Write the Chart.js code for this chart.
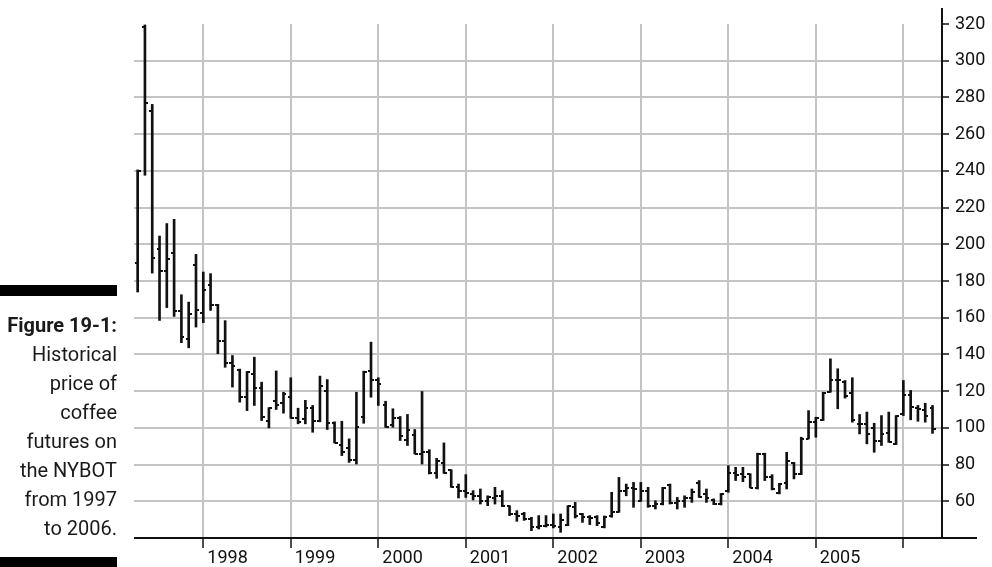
<!DOCTYPE html>
<html>
<head>
<meta charset="utf-8">
<title>Coffee futures, NYBOT 1997-2006</title>
<script src="https://cdn.jsdelivr.net/npm/chart.js@4.4.1/dist/chart.umd.min.js"></script>
<style>
  html, body { margin: 0; padding: 0; background: #fff; }
  #wrap { position: relative; width: 992px; height: 567px; overflow: hidden; }
  #priceChart { position: absolute; left: 0; top: 0; }
  .rule { position: absolute; left: 0; width: 117px; background: #000; }
  #caption {
    position: absolute; left: 0; top: 311px; width: 117px;
    text-align: right; font-family: Roboto, sans-serif;
    font-size: 20px; line-height: 29px; color: #1a1a1a;
  }
  #caption b { font-weight: 700; }
</style>
</head>
<body>
<div id="wrap">
  <canvas id="priceChart" width="992" height="567"></canvas>
  <div class="rule" style="top:285px;height:11px"></div>
  <div id="caption"><b>Figure 19-1:</b><br>Historical<br>price of<br>coffee<br>futures on<br>the NYBOT<br>from 1997<br>to 2006.</div>
  <div class="rule" style="top:557px;height:10px"></div>
</div>
<script>
// monthly bars, first one is April 1997
const START_YEAR = 1997;
const START_MONTH = 4;

const opens = [
    190, 318.5, 272.5, 197.3, 185.3, 195, 163.4, 148.5, 188.5,
    162.5, 178, 167, 147.2, 135.2, 131.3, 117, 129.5, 121.6, 104, 114.5, 113.4,
    117, 105.2, 105, 110.7, 103.6, 120, 102.5, 90.9, 88.9, 82.7, 105.8, 130.9,
    126.3, 112.2, 101.8, 105.2, 93.4, 96.2, 86, 86.7, 75.2, 80.9, 77, 67.6,
    65.4, 63.9, 63, 60.3, 62, 63, 57.5, 53, 53, 50.4, 45.8, 46.5,
    47, 46, 47.3, 57.1, 53, 51.3, 51.5, 46, 52, 54, 65.8, 67,
    60.3, 65.8, 57.6, 58.5, 69, 58.8, 60, 62, 70, 64, 60.5, 58.5,
    65.5, 75.2, 75, 74.9, 67.3, 86, 73, 64.5, 69.8, 81, 74.9, 94,
    103.1, 104.4, 119.5, 126.2, 125, 119, 102.2, 102.2, 100, 93.1, 97, 91,
    107.6, 118, 111, 110, 111
];
const highs = [
    240.5, 319.5, 276.2, 204.5, 211.3, 213.6, 172.5, 168.5, 194.5,
    184.9, 184, 167.3, 158.4, 139.4, 132, 130.7, 138.5, 124.9, 111, 131, 119.4,
    127.3, 110.7, 115, 112.2, 128.2, 126.3, 103.3, 103.6, 94, 119.4, 130.9, 146.7,
    127.3, 114.5, 110.4, 106.2, 107.3, 99.1, 119.8, 88.1, 83.4, 91.8, 77.2, 69.4,
    74.5, 65.8, 66.7, 63, 67.6, 65.8, 57.6, 54.9, 54, 51.3, 52.2, 52.2,
    53.1, 53.1, 57.6, 59.4, 53.4, 52.2, 52.2, 52, 64.9, 73, 69.4, 70.3,
    70.3, 67.6, 60.3, 67.6, 69.4, 62.1, 63, 66.7, 71.3, 66.7, 61.3, 64.3,
    79.4, 78.5, 78.5, 75, 86.2, 86.2, 74.5, 69.8, 86.7, 81.2, 94.9, 109.4,
    105.8, 119.4, 137.6, 132.2, 125.8, 127.3, 107.3, 108.6, 102.5, 106.7, 108.6, 106.7,
    125.8, 120.4, 112.2, 113.4, 112.2
];
const lows = [
    174, 237.6, 184.3, 158.5, 165.5, 160.7, 146.4, 143.6, 154.9,
    157.3, 164, 140.4, 133, 122.2, 114, 109.4, 112.2, 104, 100, 110, 108,
    105.2, 102.2, 102.2, 97.6, 103.3, 99.1, 91.8, 84.9, 81.2, 80.3, 102.5, 116.7,
    112.2, 100.3, 100.3, 93.1, 90.4, 85.8, 80.3, 74.9, 72.5, 75.2, 67.6, 61.8,
    62.1, 60.7, 58.5, 57.6, 58.5, 57.1, 52.2, 49.1, 49.6, 44, 44.9, 46,
    45.5, 43.1, 46.7, 50.9, 48.5, 47.3, 46.7, 45.5, 51.3, 54, 63, 56.7,
    60, 56.7, 55.8, 58, 58.5, 55.8, 56.7, 59.4, 62.1, 59.4, 58.2, 58,
    64.9, 71.3, 70.7, 67.3, 66.7, 71.3, 66.2, 64, 66.7, 72.2, 74.5, 94,
    94.9, 104, 119.4, 110.4, 116.2, 103.1, 96.7, 91.3, 86.7, 90.4, 92.1, 90.9,
    106.7, 104.4, 103.6, 103.1, 97
];
const closes = [
    240, 276.7, 192.5, 185.3, 192.2, 163.4, 149.3, 161.8, 164,
    175.3, 166.7, 147.2, 135.2, 133.6, 117, 130.3, 121.6, 106, 110.7, 112.7, 118.5,
    105.5, 103.3, 110.7, 103.6, 122.7, 102.5, 92, 86.7, 82.7, 100.3, 130.5, 126.3,
    124, 100.5, 105.2, 95.8, 98.9, 86, 86.7, 75.2, 82.2, 75.5, 67.8, 65.4,
    64.3, 63, 60.3, 62.1, 63, 57.5, 53, 52.2, 50.5, 45.8, 46.5, 47,
    46.5, 49.6, 57.3, 52.2, 51.3, 51, 48, 51.5, 54, 65.8, 67, 66.7,
    65.8, 57.6, 58.5, 67.3, 58.8, 60, 62, 64.9, 62.5, 62, 58.3, 64,
    75.2, 74.5, 73.5, 67.5, 86, 73, 66.7, 69.5, 82.2, 74.9, 94, 103.1,
    105.5, 119, 126.2, 125.8, 117.6, 104.4, 102.2, 96.7, 93.1, 96.7, 92.3, 106.5,
    118, 111.3, 110.4, 106.7, 99.4
];

const yearTicks = [1998, 1999, 2000, 2001, 2002, 2003, 2004, 2005, 2006];
const yearLabels = ['1998', '1999', '2000', '2001', '2002', '2003', '2004', '2005', ''];
const priceTicks = [60, 80, 100, 120, 140, 160, 180, 200, 220, 240, 260, 280, 300, 320];

const GRID = '#c4c4c4';
const INK = '#111';

// bar index of January of a given year
function januaryIndex(year) {
    return (year - START_YEAR) * 12 + (1 - START_MONTH);
}

// small open / close ticks, drawn as point images centred on the bar
function tickImage(side) {
    const c = document.createElement('canvas');
    c.width = 6;
    c.height = 2;
    const g = c.getContext('2d');
    g.fillStyle = INK;
    g.fillRect(side === 'left' ? 0 : 3, 0, 3, 2);
    return c;
}

const axisLines = {
    id: 'axisLines',
    afterDraw(chart) {
        const { ctx, chartArea } = chart;
        ctx.save();
        ctx.strokeStyle = INK;
        ctx.lineWidth = 2;
        ctx.beginPath();
        ctx.moveTo(chartArea.left, chartArea.bottom);
        ctx.lineTo(chartArea.right + 35, chartArea.bottom);
        ctx.moveTo(chartArea.right, chartArea.top - 16);
        ctx.lineTo(chartArea.right, chartArea.bottom);
        ctx.stroke();
        ctx.restore();
    }
};

const ctx = document.getElementById('priceChart').getContext('2d');

new Chart(ctx, {
    type: 'bar',
    data: {
        datasets: [
            {
                label: 'High-Low',
                data: highs.map((h, i) => ({ x: i, y: [lows[i], h] })),
                backgroundColor: INK,
                barThickness: 2
            },
            {
                type: 'scatter',
                label: 'Open',
                data: opens.map((v, i) => ({ x: i, y: v })),
                pointStyle: tickImage('left'),
                pointRadius: 3
            },
            {
                type: 'scatter',
                label: 'Close',
                data: closes.map((v, i) => ({ x: i, y: v })),
                pointStyle: tickImage('right'),
                pointRadius: 3
            }
        ]
    },
    options: {
        responsive: false,
        animation: false,
        events: [],
        layout: { padding: { left: 134, top: 24, right: 0, bottom: 0 } },
        plugins: {
            legend: { display: false },
            tooltip: { enabled: false }
        },
        scales: {
            x: {
                type: 'linear',
                offset: false,
                min: -0.5,
                max: opens.length + 0.3,
                afterBuildTicks: axis => {
                    axis.ticks = yearTicks.map(y => ({ value: januaryIndex(y) }));
                },
                afterFit: axis => { axis.height = 29; },
                border: { display: false },
                grid: {
                    offset: false,
                    color: GRID,
                    lineWidth: 2,
                    tickLength: 10,
                    tickColor: INK,
                    tickWidth: 1.5
                },
                ticks: {
                    autoSkip: false,
                    maxRotation: 0,
                    align: 'start',
                    labelOffset: 4,
                    padding: 0,
                    color: INK,
                    font: { family: 'Roboto', size: 18 },
                    callback: (value, index) => yearLabels[index]
                }
            },
            y: {
                position: 'right',
                min: 40,
                max: 320,
                afterBuildTicks: axis => {
                    axis.ticks = priceTicks.map(v => ({ value: v }));
                },
                afterFit: axis => { axis.width = 50; },
                border: { display: false },
                grid: {
                    color: c => (c.tick && c.tick.value === 320 ? 'rgba(0,0,0,0)' : GRID),
                    lineWidth: 2,
                    tickLength: 7,
                    tickColor: INK,
                    tickWidth: 1.5
                },
                ticks: {
                    padding: 6,
                    color: INK,
                    font: { family: 'Roboto', size: 18 }
                }
            }
        }
    },
    plugins: [axisLines]
});
</script>
</body>
</html>
